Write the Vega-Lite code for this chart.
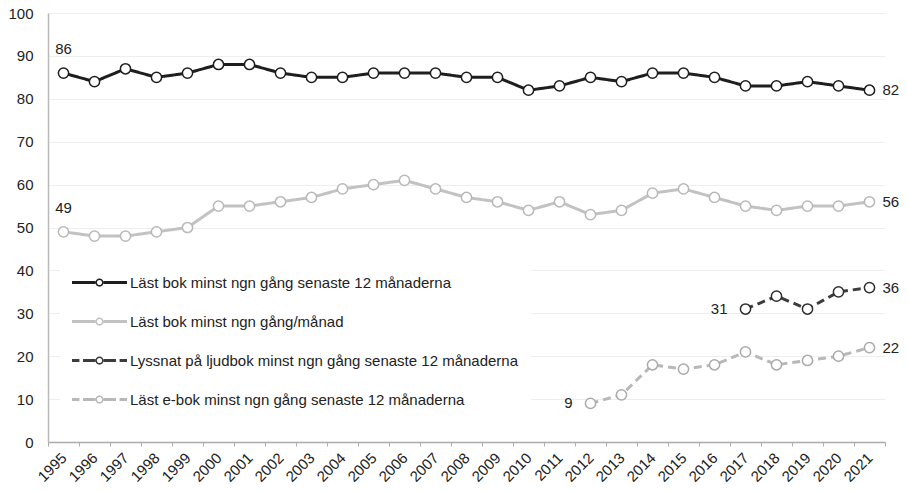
{
  "$schema": "https://vega.github.io/schema/vega-lite/v6.json",
  "width": 837,
  "height": 429,
  "autosize": {"type": "none"},
  "padding": {"left": 48, "top": 13, "right": 23, "bottom": 49},
  "background": "white",
  "config": {"view": {"stroke": null}, "font": "Liberation Sans"},
  "datasets": {
    "main": [
      {"series": "Läst bok minst ngn gång senaste 12 månaderna", "year": 1995, "value": 86},
      {"series": "Läst bok minst ngn gång senaste 12 månaderna", "year": 1996, "value": 84},
      {"series": "Läst bok minst ngn gång senaste 12 månaderna", "year": 1997, "value": 87},
      {"series": "Läst bok minst ngn gång senaste 12 månaderna", "year": 1998, "value": 85},
      {"series": "Läst bok minst ngn gång senaste 12 månaderna", "year": 1999, "value": 86},
      {"series": "Läst bok minst ngn gång senaste 12 månaderna", "year": 2000, "value": 88},
      {"series": "Läst bok minst ngn gång senaste 12 månaderna", "year": 2001, "value": 88},
      {"series": "Läst bok minst ngn gång senaste 12 månaderna", "year": 2002, "value": 86},
      {"series": "Läst bok minst ngn gång senaste 12 månaderna", "year": 2003, "value": 85},
      {"series": "Läst bok minst ngn gång senaste 12 månaderna", "year": 2004, "value": 85},
      {"series": "Läst bok minst ngn gång senaste 12 månaderna", "year": 2005, "value": 86},
      {"series": "Läst bok minst ngn gång senaste 12 månaderna", "year": 2006, "value": 86},
      {"series": "Läst bok minst ngn gång senaste 12 månaderna", "year": 2007, "value": 86},
      {"series": "Läst bok minst ngn gång senaste 12 månaderna", "year": 2008, "value": 85},
      {"series": "Läst bok minst ngn gång senaste 12 månaderna", "year": 2009, "value": 85},
      {"series": "Läst bok minst ngn gång senaste 12 månaderna", "year": 2010, "value": 82},
      {"series": "Läst bok minst ngn gång senaste 12 månaderna", "year": 2011, "value": 83},
      {"series": "Läst bok minst ngn gång senaste 12 månaderna", "year": 2012, "value": 85},
      {"series": "Läst bok minst ngn gång senaste 12 månaderna", "year": 2013, "value": 84},
      {"series": "Läst bok minst ngn gång senaste 12 månaderna", "year": 2014, "value": 86},
      {"series": "Läst bok minst ngn gång senaste 12 månaderna", "year": 2015, "value": 86},
      {"series": "Läst bok minst ngn gång senaste 12 månaderna", "year": 2016, "value": 85},
      {"series": "Läst bok minst ngn gång senaste 12 månaderna", "year": 2017, "value": 83},
      {"series": "Läst bok minst ngn gång senaste 12 månaderna", "year": 2018, "value": 83},
      {"series": "Läst bok minst ngn gång senaste 12 månaderna", "year": 2019, "value": 84},
      {"series": "Läst bok minst ngn gång senaste 12 månaderna", "year": 2020, "value": 83},
      {"series": "Läst bok minst ngn gång senaste 12 månaderna", "year": 2021, "value": 82},
      {"series": "Läst bok minst ngn gång/månad", "year": 1995, "value": 49},
      {"series": "Läst bok minst ngn gång/månad", "year": 1996, "value": 48},
      {"series": "Läst bok minst ngn gång/månad", "year": 1997, "value": 48},
      {"series": "Läst bok minst ngn gång/månad", "year": 1998, "value": 49},
      {"series": "Läst bok minst ngn gång/månad", "year": 1999, "value": 50},
      {"series": "Läst bok minst ngn gång/månad", "year": 2000, "value": 55},
      {"series": "Läst bok minst ngn gång/månad", "year": 2001, "value": 55},
      {"series": "Läst bok minst ngn gång/månad", "year": 2002, "value": 56},
      {"series": "Läst bok minst ngn gång/månad", "year": 2003, "value": 57},
      {"series": "Läst bok minst ngn gång/månad", "year": 2004, "value": 59},
      {"series": "Läst bok minst ngn gång/månad", "year": 2005, "value": 60},
      {"series": "Läst bok minst ngn gång/månad", "year": 2006, "value": 61},
      {"series": "Läst bok minst ngn gång/månad", "year": 2007, "value": 59},
      {"series": "Läst bok minst ngn gång/månad", "year": 2008, "value": 57},
      {"series": "Läst bok minst ngn gång/månad", "year": 2009, "value": 56},
      {"series": "Läst bok minst ngn gång/månad", "year": 2010, "value": 54},
      {"series": "Läst bok minst ngn gång/månad", "year": 2011, "value": 56},
      {"series": "Läst bok minst ngn gång/månad", "year": 2012, "value": 53},
      {"series": "Läst bok minst ngn gång/månad", "year": 2013, "value": 54},
      {"series": "Läst bok minst ngn gång/månad", "year": 2014, "value": 58},
      {"series": "Läst bok minst ngn gång/månad", "year": 2015, "value": 59},
      {"series": "Läst bok minst ngn gång/månad", "year": 2016, "value": 57},
      {"series": "Läst bok minst ngn gång/månad", "year": 2017, "value": 55},
      {"series": "Läst bok minst ngn gång/månad", "year": 2018, "value": 54},
      {"series": "Läst bok minst ngn gång/månad", "year": 2019, "value": 55},
      {"series": "Läst bok minst ngn gång/månad", "year": 2020, "value": 55},
      {"series": "Läst bok minst ngn gång/månad", "year": 2021, "value": 56},
      {"series": "Lyssnat på ljudbok minst ngn gång senaste 12 månaderna", "year": 2017, "value": 31},
      {"series": "Lyssnat på ljudbok minst ngn gång senaste 12 månaderna", "year": 2018, "value": 34},
      {"series": "Lyssnat på ljudbok minst ngn gång senaste 12 månaderna", "year": 2019, "value": 31},
      {"series": "Lyssnat på ljudbok minst ngn gång senaste 12 månaderna", "year": 2020, "value": 35},
      {"series": "Lyssnat på ljudbok minst ngn gång senaste 12 månaderna", "year": 2021, "value": 36},
      {"series": "Läst e-bok minst ngn gång senaste 12 månaderna", "year": 2012, "value": 9},
      {"series": "Läst e-bok minst ngn gång senaste 12 månaderna", "year": 2013, "value": 11},
      {"series": "Läst e-bok minst ngn gång senaste 12 månaderna", "year": 2014, "value": 18},
      {"series": "Läst e-bok minst ngn gång senaste 12 månaderna", "year": 2015, "value": 17},
      {"series": "Läst e-bok minst ngn gång senaste 12 månaderna", "year": 2016, "value": 18},
      {"series": "Läst e-bok minst ngn gång senaste 12 månaderna", "year": 2017, "value": 21},
      {"series": "Läst e-bok minst ngn gång senaste 12 månaderna", "year": 2018, "value": 18},
      {"series": "Läst e-bok minst ngn gång senaste 12 månaderna", "year": 2019, "value": 19},
      {"series": "Läst e-bok minst ngn gång senaste 12 månaderna", "year": 2020, "value": 20},
      {"series": "Läst e-bok minst ngn gång senaste 12 månaderna", "year": 2021, "value": 22}
    ]
  },
  "data": {"name": "main"},
  "encoding": {
    "x": {
      "field": "year",
      "type": "ordinal",
      "title": null,
      "scale": {"paddingInner": 0, "paddingOuter": 0},
      "axis": {
        "labelAngle": -45,
        "labelAlign": "right",
        "labelBaseline": "middle",
        "labelFontSize": 15,
        "labelColor": "#222222",
        "labelPadding": 9,
        "tickBand": "extent",
        "tickSize": 4,
        "tickColor": "#aaaaaa",
        "domainColor": "#aaaaaa",
        "domainWidth": 1.5,
        "grid": false
      }
    },
    "y": {
      "field": "value",
      "type": "quantitative",
      "title": null,
      "scale": {"domain": [0, 100], "nice": false},
      "axis": {
        "values": [0, 10, 20, 30, 40, 50, 60, 70, 80, 90, 100],
        "grid": true,
        "gridColor": "#eeeeee",
        "gridWidth": 1,
        "ticks": false,
        "labelPadding": 15,
        "labelFontSize": 15,
        "labelColor": "#222222",
        "domainColor": "#b8b8b8",
        "domainWidth": 1.5
      }
    }
  },
  "layer": [
    {
      "mark": {"type": "line", "strokeWidth": 3},
      "encoding": {
        "color": {
          "field": "series",
          "type": "nominal",
          "scale": {
            "domain": ["Läst bok minst ngn gång senaste 12 månaderna", "Läst bok minst ngn gång/månad", "Lyssnat på ljudbok minst ngn gång senaste 12 månaderna", "Läst e-bok minst ngn gång senaste 12 månaderna"],
            "range": ["#1e1e1e", "#c2c2c2", "#3c3c3c", "#b8b8b8"]
          },
          "legend": {
            "orient": "none",
            "legendX": 12,
            "legendY": 230,
            "title": null,
            "fillColor": "white",
            "padding": 12,
            "symbolSize": 3025,
            "symbolStrokeWidth": 0,
            "labelFontSize": 15,
            "labelColor": "#222222",
            "labelOffset": 3,
            "labelLimit": 0,
            "rowPadding": 3,
            "encode": {
              "symbols": {
                "update": {
                  "shape": {"signal": "(datum.value === 'Lyssnat på ljudbok minst ngn gång senaste 12 månaderna' || datum.value === 'Läst e-bok minst ngn gång senaste 12 månaderna') ? 'M-1,-0.055H-0.73V0.055H-1Z M-0.6,-0.055H-0.15V0.055H-0.6Z M0.15,-0.055H0.6V0.055H0.15Z M0.73,-0.055H1V0.055H0.73Z M0.15,0A0.15,0.15 0 1,0 -0.15,0A0.15,0.15 0 1,0 0.15,0Z M0.095,0A0.095,0.095 0 1,1 -0.095,0A0.095,0.095 0 1,1 0.095,0Z' : 'M-1,-0.055H-0.15V0.055H-1Z M0.15,-0.055H1V0.055H0.15Z M0.15,0A0.15,0.15 0 1,0 -0.15,0A0.15,0.15 0 1,0 0.15,0Z M0.095,0A0.095,0.095 0 1,1 -0.095,0A0.095,0.095 0 1,1 0.095,0Z'"},
                  "fill": {"signal": "scale('color', datum.value)"},
                  "stroke": {"value": "transparent"},
                  "strokeWidth": {"value": 0},
                  "opacity": {"value": 1}
                }
              }
            }
          }
        },
        "strokeDash": {
          "field": "series",
          "type": "nominal",
          "scale": {
            "domain": ["Läst bok minst ngn gång senaste 12 månaderna", "Läst bok minst ngn gång/månad", "Lyssnat på ljudbok minst ngn gång senaste 12 månaderna", "Läst e-bok minst ngn gång senaste 12 månaderna"],
            "range": [[1, 0], [1, 0], [8, 5], [8, 5]]
          },
          "legend": null
        }
      }
    },
    {
      "mark": {"type": "point", "filled": true, "fill": "white", "size": 105, "strokeWidth": 1.5, "opacity": 1},
      "encoding": {
        "stroke": {
          "field": "series",
          "type": "nominal",
          "scale": {
            "domain": ["Läst bok minst ngn gång senaste 12 månaderna", "Läst bok minst ngn gång/månad", "Lyssnat på ljudbok minst ngn gång senaste 12 månaderna", "Läst e-bok minst ngn gång senaste 12 månaderna"],
            "range": ["#1e1e1e", "#b8b8b8", "#2e2e2e", "#aaaaaa"]
          },
          "legend": null
        }
      }
    },
    {
      "transform": [{"filter": "datum.year === 1995"}],
      "mark": {"type": "text", "align": "center", "baseline": "alphabetic", "dy": -19, "fontSize": 15, "color": "#222222"},
      "encoding": {"text": {"field": "value", "type": "quantitative"}}
    },
    {
      "transform": [{"filter": "datum.year === 2021"}],
      "mark": {"type": "text", "align": "left", "baseline": "middle", "dx": 13, "fontSize": 15, "color": "#222222"},
      "encoding": {"text": {"field": "value", "type": "quantitative"}}
    },
    {
      "transform": [{"filter": "(datum.series === 'Lyssnat på ljudbok minst ngn gång senaste 12 månaderna' && datum.year === 2017) || (datum.series === 'Läst e-bok minst ngn gång senaste 12 månaderna' && datum.year === 2012)"}],
      "mark": {"type": "text", "align": "right", "baseline": "middle", "dx": -18, "fontSize": 15, "color": "#222222"},
      "encoding": {"text": {"field": "value", "type": "quantitative"}}
    }
  ]
}
